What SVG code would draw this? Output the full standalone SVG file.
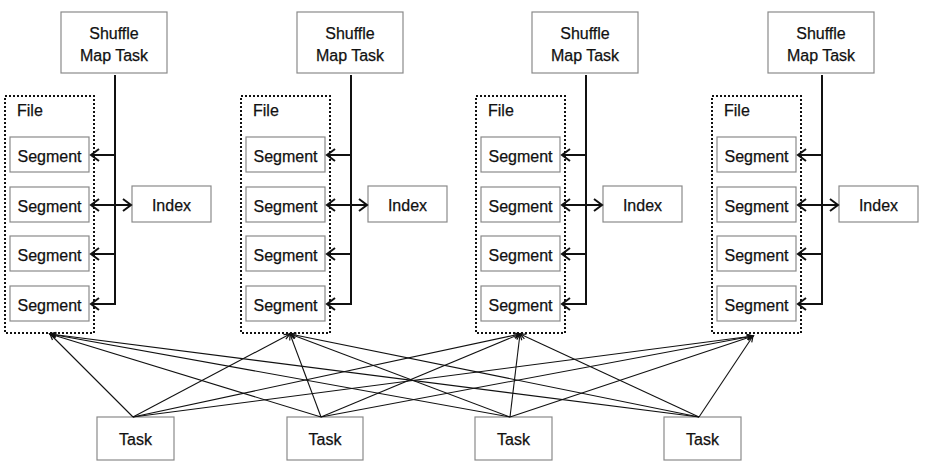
<svg xmlns="http://www.w3.org/2000/svg" width="926" height="466" viewBox="0 0 926 466">
<style>
.box{fill:#fff;stroke:#8a8a8a;stroke-width:1.2}
.file{fill:none;stroke:#111;stroke-width:2;stroke-dasharray:2 2}
.t{font-family:"Liberation Sans",Arial,sans-serif;font-size:16px;fill:#111;text-anchor:middle;stroke:#111;stroke-width:0.25}
.tl{font-family:"Liberation Sans",Arial,sans-serif;font-size:16px;fill:#111;stroke:#111;stroke-width:0.25}
.bus{fill:none;stroke:#111;stroke-width:2}
.link{fill:none;stroke:#111;stroke-width:1.1}
</style>
<defs>
<marker id="chev" markerUnits="userSpaceOnUse" markerWidth="14" markerHeight="14" refX="0" refY="0" viewBox="-12 -7 14 14" orient="auto" overflow="visible">
<path d="M-8,-6 L0,0 L-8,6" fill="none" stroke="#111" stroke-width="2"/>
</marker>
<marker id="chevS" markerUnits="userSpaceOnUse" markerWidth="14" markerHeight="14" refX="0" refY="0" viewBox="-12 -7 14 14" orient="auto-start-reverse" overflow="visible">
<path d="M-8,-6 L0,0 L-8,6" fill="none" stroke="#111" stroke-width="2"/>
</marker>
<marker id="tip" markerUnits="userSpaceOnUse" markerWidth="10" markerHeight="10" refX="0" refY="0" viewBox="-8 -4 10 8" orient="auto" overflow="visible">
<path d="M-6,-2.5 L0,0 L-6,2.5" fill="none" stroke="#111" stroke-width="1.2"/>
</marker>
</defs>

<g id="col1">
<g id="shuffle1"><rect class="box" x="61" y="12" width="106" height="61"/><text class="t" x="114" y="39">Shuffle</text><text class="t" x="114" y="61">Map Task</text></g>
<g id="file1"><rect class="file" x="5" y="96" width="89" height="237"/><text class="tl" x="17" y="116">File</text>
<g id="seg1a"><rect class="box" x="10" y="137" width="79" height="35"/><text class="t" x="49.5" y="162">Segment</text></g>
<g id="seg1b"><rect class="box" x="10" y="187" width="79" height="35"/><text class="t" x="49.5" y="212">Segment</text></g>
<g id="seg1c"><rect class="box" x="10" y="236" width="79" height="35"/><text class="t" x="49.5" y="261">Segment</text></g>
<g id="seg1d"><rect class="box" x="10" y="286" width="79" height="35"/><text class="t" x="49.5" y="311">Segment</text></g>
</g>
<g id="index1"><rect class="box" x="132" y="186" width="79" height="36"/><text class="t" x="171.5" y="211">Index</text></g>
</g>

<g id="col2">
<g id="shuffle2"><rect class="box" x="297" y="12" width="106" height="61"/><text class="t" x="350" y="39">Shuffle</text><text class="t" x="350" y="61">Map Task</text></g>
<g id="file2"><rect class="file" x="241" y="96" width="89" height="237"/><text class="tl" x="253" y="116">File</text>
<g id="seg2a"><rect class="box" x="246" y="137" width="79" height="35"/><text class="t" x="285.5" y="162">Segment</text></g>
<g id="seg2b"><rect class="box" x="246" y="187" width="79" height="35"/><text class="t" x="285.5" y="212">Segment</text></g>
<g id="seg2c"><rect class="box" x="246" y="236" width="79" height="35"/><text class="t" x="285.5" y="261">Segment</text></g>
<g id="seg2d"><rect class="box" x="246" y="286" width="79" height="35"/><text class="t" x="285.5" y="311">Segment</text></g>
</g>
<g id="index2"><rect class="box" x="368" y="186" width="79" height="36"/><text class="t" x="407.5" y="211">Index</text></g>
</g>

<g id="col3">
<g id="shuffle3"><rect class="box" x="532" y="12" width="106" height="61"/><text class="t" x="585" y="39">Shuffle</text><text class="t" x="585" y="61">Map Task</text></g>
<g id="file3"><rect class="file" x="476" y="96" width="89" height="237"/><text class="tl" x="488" y="116">File</text>
<g id="seg3a"><rect class="box" x="481" y="137" width="79" height="35"/><text class="t" x="520.5" y="162">Segment</text></g>
<g id="seg3b"><rect class="box" x="481" y="187" width="79" height="35"/><text class="t" x="520.5" y="212">Segment</text></g>
<g id="seg3c"><rect class="box" x="481" y="236" width="79" height="35"/><text class="t" x="520.5" y="261">Segment</text></g>
<g id="seg3d"><rect class="box" x="481" y="286" width="79" height="35"/><text class="t" x="520.5" y="311">Segment</text></g>
</g>
<g id="index3"><rect class="box" x="603" y="186" width="79" height="36"/><text class="t" x="642.5" y="211">Index</text></g>
</g>

<g id="col4">
<g id="shuffle4"><rect class="box" x="768" y="12" width="106" height="61"/><text class="t" x="821" y="39">Shuffle</text><text class="t" x="821" y="61">Map Task</text></g>
<g id="file4"><rect class="file" x="712" y="96" width="89" height="237"/><text class="tl" x="724" y="116">File</text>
<g id="seg4a"><rect class="box" x="717" y="137" width="79" height="35"/><text class="t" x="756.5" y="162">Segment</text></g>
<g id="seg4b"><rect class="box" x="717" y="187" width="79" height="35"/><text class="t" x="756.5" y="212">Segment</text></g>
<g id="seg4c"><rect class="box" x="717" y="236" width="79" height="35"/><text class="t" x="756.5" y="261">Segment</text></g>
<g id="seg4d"><rect class="box" x="717" y="286" width="79" height="35"/><text class="t" x="756.5" y="311">Segment</text></g>
</g>
<g id="index4"><rect class="box" x="839" y="186" width="79" height="36"/><text class="t" x="878.5" y="211">Index</text></g>
</g>

<g id="task1"><rect class="box" x="97" y="417" width="77" height="43"/><text class="t" x="135.5" y="445">Task</text></g>
<g id="task2"><rect class="box" x="287" y="417" width="76" height="43"/><text class="t" x="325" y="445">Task</text></g>
<g id="task3"><rect class="box" x="475" y="417" width="77" height="43"/><text class="t" x="513.5" y="445">Task</text></g>
<g id="task4"><rect class="box" x="664" y="417" width="77" height="43"/><text class="t" x="702.5" y="445">Task</text></g>

<g id="connectors">
<path class="bus" d="M115,75 V304 H91" marker-end="url(#chev)"/>
<path class="bus" d="M115,155 H91" marker-end="url(#chev)"/>
<path class="bus" d="M115,254 H91" marker-end="url(#chev)"/>
<path class="bus" d="M91,205 H131" marker-start="url(#chevS)" marker-end="url(#chev)"/>

<path class="bus" d="M351,75 V304 H327" marker-end="url(#chev)"/>
<path class="bus" d="M351,155 H327" marker-end="url(#chev)"/>
<path class="bus" d="M351,254 H327" marker-end="url(#chev)"/>
<path class="bus" d="M327,205 H367" marker-start="url(#chevS)" marker-end="url(#chev)"/>

<path class="bus" d="M586,75 V304 H562" marker-end="url(#chev)"/>
<path class="bus" d="M586,155 H562" marker-end="url(#chev)"/>
<path class="bus" d="M586,254 H562" marker-end="url(#chev)"/>
<path class="bus" d="M562,205 H602" marker-start="url(#chevS)" marker-end="url(#chev)"/>

<path class="bus" d="M822,75 V304 H798" marker-end="url(#chev)"/>
<path class="bus" d="M822,155 H798" marker-end="url(#chev)"/>
<path class="bus" d="M822,254 H798" marker-end="url(#chev)"/>
<path class="bus" d="M798,205 H838" marker-start="url(#chevS)" marker-end="url(#chev)"/>

<path class="link" d="M133,417 L50,334" marker-end="url(#tip)"/>
<path class="link" d="M133,417 L290,334" marker-end="url(#tip)"/>
<path class="link" d="M133,417 L520,334" marker-end="url(#tip)"/>
<path class="link" d="M133,417 L753,336" marker-end="url(#tip)"/>
<path class="link" d="M321,417 L50,334" marker-end="url(#tip)"/>
<path class="link" d="M321,417 L290,334" marker-end="url(#tip)"/>
<path class="link" d="M321,417 L520,334" marker-end="url(#tip)"/>
<path class="link" d="M321,417 L753,336" marker-end="url(#tip)"/>
<path class="link" d="M510,417 L50,334" marker-end="url(#tip)"/>
<path class="link" d="M510,417 L290,334" marker-end="url(#tip)"/>
<path class="link" d="M510,417 L520,334" marker-end="url(#tip)"/>
<path class="link" d="M510,417 L753,336" marker-end="url(#tip)"/>
<path class="link" d="M699,417 L50,334" marker-end="url(#tip)"/>
<path class="link" d="M699,417 L290,334" marker-end="url(#tip)"/>
<path class="link" d="M699,417 L520,334" marker-end="url(#tip)"/>
<path class="link" d="M699,417 L753,336" marker-end="url(#tip)"/>
</g>
</svg>
